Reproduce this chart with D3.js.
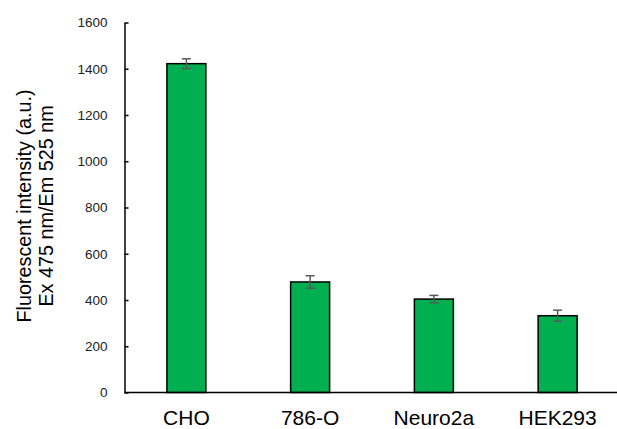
<!DOCTYPE html>
<html><head><meta charset="utf-8">
<script src="https://cdn.jsdelivr.net/npm/d3@7"></script>
<style>body{margin:0;background:#fff}svg{display:block}text{font-family:"Liberation Sans",Arial,sans-serif}</style>
</head><body>
<svg id="c" width="617" height="429"></svg>
<script>
const categories = ["CHO", "786-O", "Neuro2a", "HEK293"];
const values = [1422, 478, 404, 332];
const errors = [21, 27, 16, 24];
const yTicks = [0, 200, 400, 600, 800, 1000, 1200, 1400, 1600];
const yTitle = ["Fluorescent intensity (a.u.)", "Ex 475 nm/Em 525 nm"];

const svg = d3.select("#c");
const x = d3.scaleBand().domain(categories).range([124.5, 619.5]).paddingInner(0.685).paddingOuter(0.3425);
const y = d3.scaleLinear().domain([0, 1600]).range([392.5, 22.5]);

// bars
svg.selectAll("rect.bar").data(categories).join("rect")
  .attr("x", d => x(d)).attr("width", x.bandwidth())
  .attr("y", (d, i) => y(values[i])).attr("height", (d, i) => y(0) - y(values[i]))
  .attr("fill", "#00B050").attr("stroke", "#000").attr("stroke-width", 1.5);

// error bars
const eg = svg.append("g").attr("stroke", "#595959").attr("stroke-width", 1.5);
categories.forEach((c, i) => {
  const cx = x(c) + x.bandwidth() / 2;
  eg.append("line").attr("x1", cx).attr("x2", cx).attr("y1", y(values[i] + errors[i])).attr("y2", y(values[i] - errors[i]));
  [values[i] + errors[i], values[i] - errors[i]].forEach(v => {
    eg.append("line").attr("x1", cx - 4.5).attr("x2", cx + 4.5).attr("y1", y(v)).attr("y2", y(v));
  });
});

// y axis
const ya = svg.append("g").attr("transform", "translate(124.5,0)")
  .call(d3.axisLeft(y).tickValues(yTicks).tickFormat(d3.format("d")).tickSizeInner(-4).tickSizeOuter(0).tickPadding(17));
ya.select(".domain").attr("stroke", "#000").attr("stroke-width", 1.5);
ya.selectAll(".tick line").attr("stroke", "#000").attr("stroke-width", 1.5);
ya.selectAll(".tick text").attr("font-size", 13.5).attr("fill", "#222").attr("font-family", "Liberation Sans, Arial, sans-serif");

// x axis
const xa = svg.append("g").attr("transform", "translate(0,392.5)")
  .call(d3.axisBottom(x).tickSize(0).tickPadding(0));
xa.select(".domain").attr("d", "M124.5,0H617").attr("stroke", "#000").attr("stroke-width", 1.5);
xa.selectAll(".tick text").attr("font-size", 21).attr("fill", "#000").attr("dy", null).attr("y", 32)
  .attr("font-family", "Liberation Sans, Arial, sans-serif");

// y title
const t = svg.append("text").attr("transform", "translate(31,206) rotate(-90)")
  .attr("text-anchor", "middle").attr("font-size", 19.8).attr("fill", "#000");
t.append("tspan").attr("x", 0).attr("y", 0).text(yTitle[0]);
t.append("tspan").attr("x", 0).attr("y", 22).text(yTitle[1]);
</script>
</body></html>
